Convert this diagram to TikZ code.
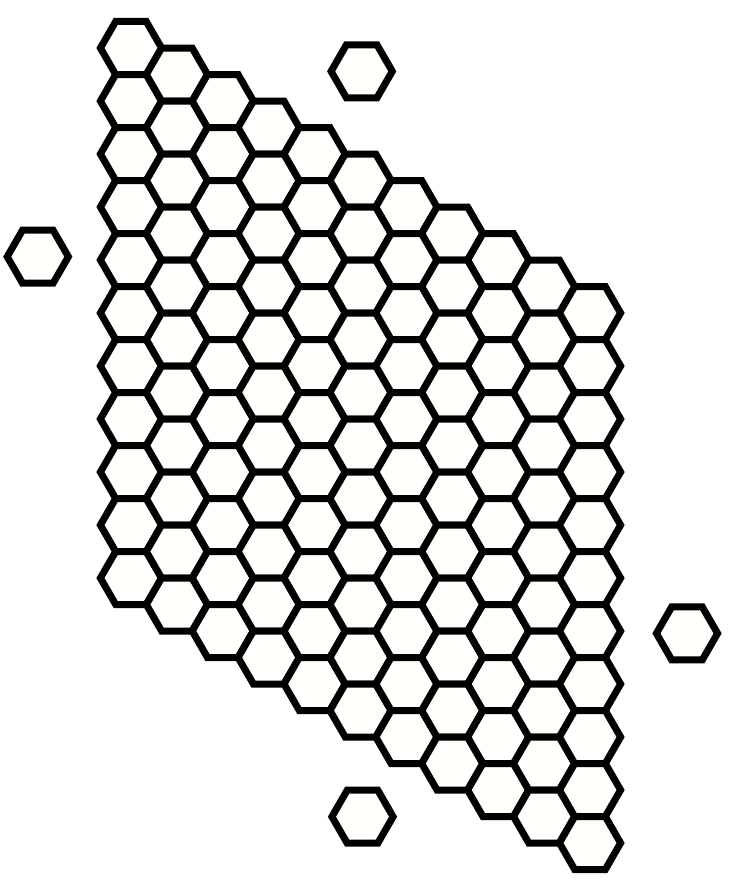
\documentclass[tikz,border=0pt]{standalone}
\definecolor{hexfill}{RGB}{255,255,252}
\tikzset{hexcell/.style={draw=black,line width=7pt,line join=miter,fill=hexfill}}
\newcommand{\hexat}[3]{% cx, cy (pixels, y down), R
  \draw[hexcell] ({#1+#3},{-(#2)}) -- ({#1+#3/2},{-(#2)+0.8660254*#3}) -- ({#1-#3/2},{-(#2)+0.8660254*#3}) -- ({#1-#3},{-(#2)}) -- ({#1-#3/2},{-(#2)-0.8660254*#3}) -- ({#1+#3/2},{-(#2)-0.8660254*#3}) -- cycle;}
\begin{document}
\begin{tikzpicture}[x=1pt,y=1pt]
\useasboundingbox (0,0) rectangle (733,-886);
\def\R{30.6}
\foreach \i in {0,...,10}{
  \foreach \j in {0,...,10}{
    \pgfmathsetmacro{\cx}{131.0+1.5*\R*\i}
    \pgfmathsetmacro{\cy}{48.0+1.7320508*\R*\j+0.8660254*\R*\i}
    \hexat{\cx}{\cy}{\R}
  }
}
\hexat{361.7}{71.3}{\R}
\hexat{37.8}{256.7}{\R}
\hexat{687}{633.4}{\R}
\hexat{362.5}{816.7}{\R}
\end{tikzpicture}
\end{document}
